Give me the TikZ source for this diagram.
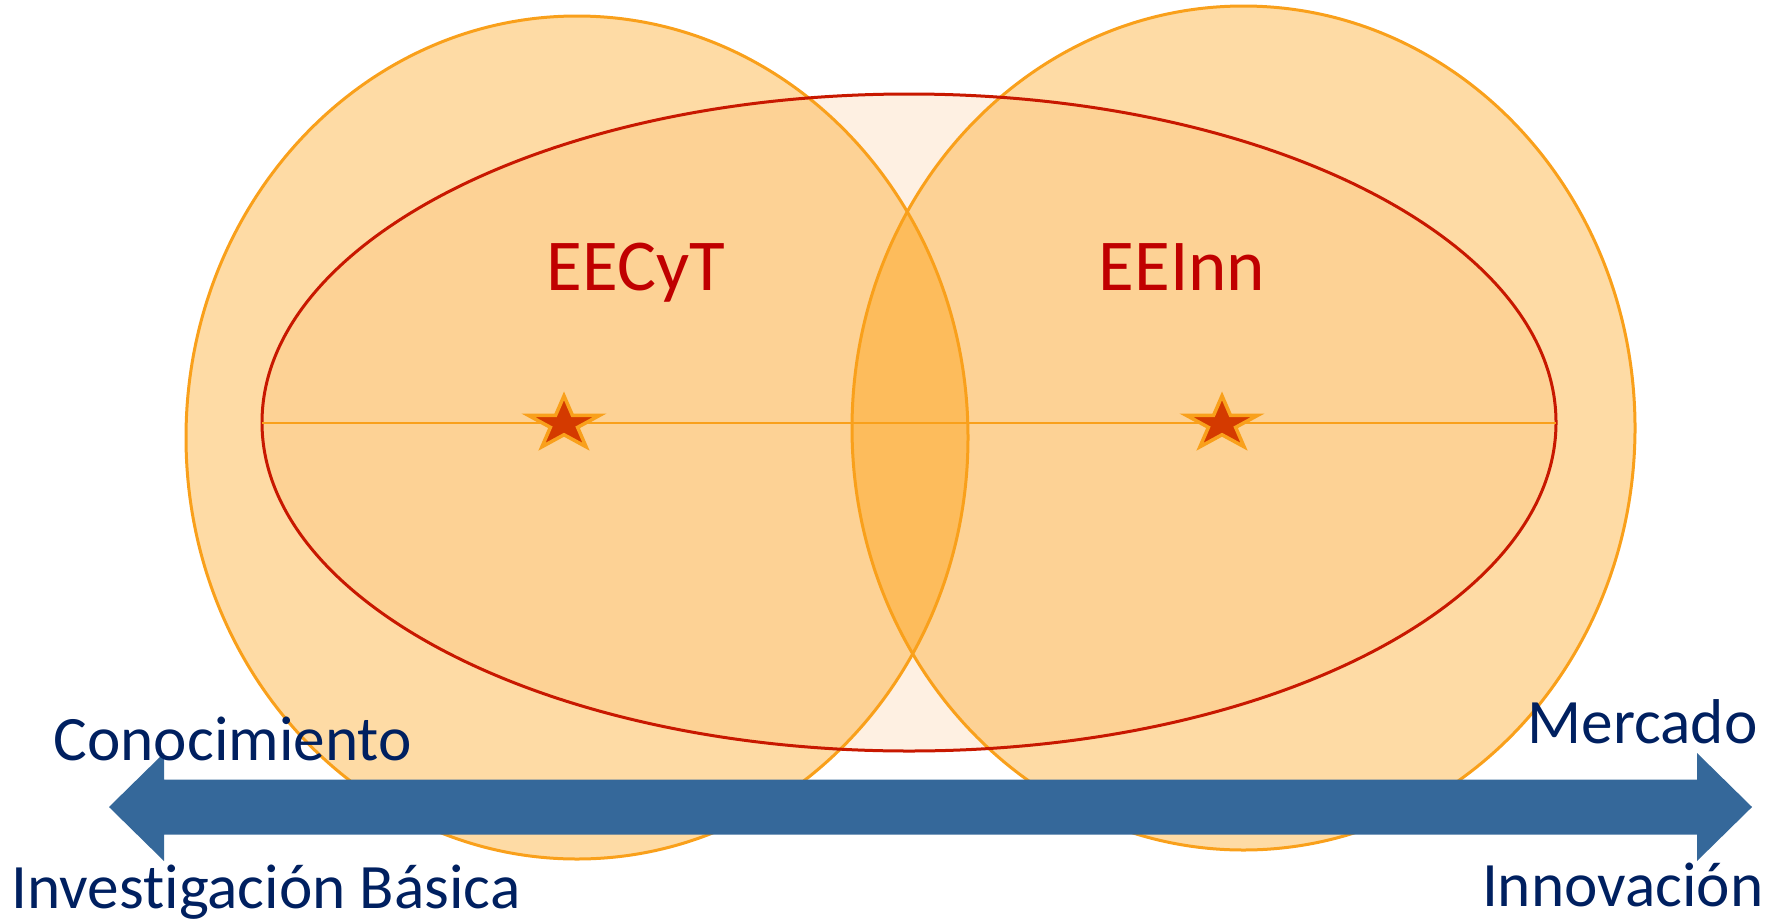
\documentclass[tikz,border=0pt]{standalone}
\usepackage{fontspec}
\setmainfont[Ligatures=NoCommon]{Carlito}
\usepackage{tikz}
\usetikzlibrary{shapes.geometric, positioning}
\definecolor{CircleColor}{RGB}{254,219,165}
\definecolor{InnerColor}{RGB}{253,210,149}
\definecolor{LensColor}{RGB}{253,188,92}
\definecolor{EllipseColor}{RGB}{254,240,226}
\definecolor{EdgeColor}{RGB}{249,160,27}
\definecolor{RimColor}{RGB}{200,24,0}
\definecolor{StarColor}{RGB}{212,58,0}
\definecolor{AxisColor}{RGB}{53,104,154}
\definecolor{NavyColor}{RGB}{0,32,96}
\definecolor{TitleColor}{RGB}{192,0,0}
\tikzstyle{edge} = [EdgeColor, line width=0.3mm]
\tikzstyle{rim} = [RimColor, line width=0.3mm]
\tikzstyle{starmark} = [star, star points=5, star point ratio=2.618, minimum size=7.5mm, inner sep=0pt, fill=StarColor, draw=EdgeColor, line width=0.35mm]
\tikzstyle{title} = [TitleColor, inner sep=0pt, font=\fontsize{20.8pt}{24pt}\selectfont]
\tikzstyle{lbl} = [NavyColor, inner sep=0pt, font=\fontsize{18pt}{22pt}\selectfont]

\begin{document}
\begin{tikzpicture}[x=0.1mm, y=-0.1mm]
    \useasboundingbox (0,0) rectangle (1786,920);
    \coordinate (cL) at (577,437.5);
    \coordinate (cR) at (1243.5,428);
    \coordinate (cE) at (909,422.5);

    % Fields
    \fill[EllipseColor] (cE) ellipse [x radius=647, y radius=328.5];
    \fill[CircleColor] (cL) ellipse [x radius=391, y radius=421.5];
    \fill[CircleColor] (cR) ellipse [x radius=391.5, y radius=422];
    \begin{scope}
        \clip (cE) ellipse [x radius=647, y radius=328.5];
        \fill[InnerColor] (cL) ellipse [x radius=391, y radius=421.5];
        \fill[InnerColor] (cR) ellipse [x radius=391.5, y radius=422];
    \end{scope}
    \begin{scope}
        \clip (cL) ellipse [x radius=391, y radius=421.5];
        \fill[LensColor] (cR) ellipse [x radius=391.5, y radius=422];
    \end{scope}

    % Outlines
    \draw[edge] (cL) ellipse [x radius=391, y radius=421.5];
    \draw[edge] (cR) ellipse [x radius=391.5, y radius=422];
    \draw[rim] (cE) ellipse [x radius=647, y radius=328.5];
    \draw[edge, line width=0.25mm] (262,423) -- (1556,423);

    % Stars
    \begin{scope}[shift={(564,424)}, yscale=0.75]
        \node[starmark, transform shape] (starL) at (0,0) {};
    \end{scope}
    \begin{scope}[shift={(1222,424)}, yscale=0.75]
        \node[starmark, transform shape] (starR) at (0,0) {};
    \end{scope}

    % Axis
    \fill[AxisColor] (109,807) -- (164,753) -- (164,779.5) -- (1697,779.5) -- (1697,753)
        -- (1752,807) -- (1697,861) -- (1697,834.5) -- (164,834.5) -- (164,861) -- cycle;

    % Labels
    \node[title, anchor=base] (eecyt) at (636,290) {EECyT};
    \node[title, anchor=base] (eeinn) at (1182,290) {EEInn};
    \node[lbl, anchor=base west] (conoc) at (53,760) {Conocimiento};
    \node[lbl, anchor=base west] (basica) at (11,908) {Investigación Básica};
    \node[lbl, anchor=base east] (mercado) at (1758,743) {Mercado};
    \node[lbl, anchor=base east] (innov) at (1764,906) {Innovación};
\end{tikzpicture}
\end{document}
